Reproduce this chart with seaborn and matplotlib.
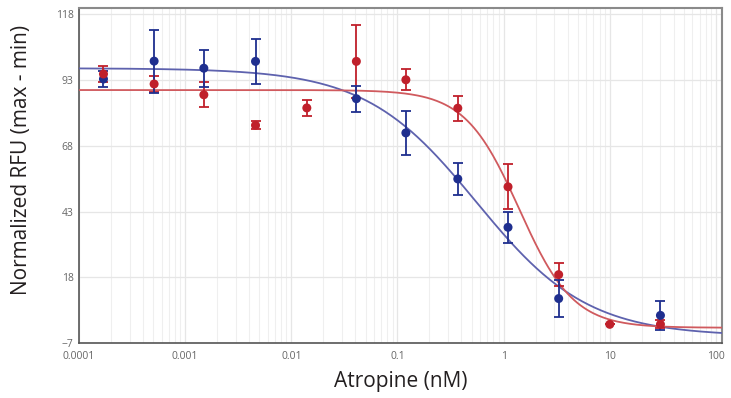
import numpy as np
import pandas as pd
import matplotlib
matplotlib.use("Agg")
import matplotlib.pyplot as plt
import seaborn as sns
from matplotlib.ticker import FixedLocator, LogLocator, NullFormatter

# ---- data ----
conc_nM = [0.00017, 0.00051, 0.0015, 0.0046, 0.014, 0.041, 0.12, 0.37, 1.1, 3.3, 10, 30]
blue_mean = [93.4, 100.2, 97.5, 100.1, np.nan, 85.9, 72.9, 55.4, 37.0, 9.9, np.nan, 3.5]
blue_err = [3.0, 12.0, 7.0, 8.5, np.nan, 5.0, 8.3, 6.0, 6.0, 7.0, np.nan, 5.6]
red_mean = [95.3, 91.5, 87.4, 75.8, 82.4, 100.1, 93.1, 82.3, 52.4, 19.0, 0.1, 0.1]
red_err = [3.0, 3.0, 4.7, 1.5, 3.0, 14.0, 4.0, 4.8, 8.5, 4.5, 0.0, 1.5]

# 4-parameter logistic fit parameters (top, bottom, IC50, hill)
blue_fit = [97.5, -4.4, 0.555, 0.83]
red_fit = [89.2, -1.2, 1.4, 1.7]

y_ticks = [-7, 18, 43, 68, 93, 118]
x_ticks = [0.0001, 0.001, 0.01, 0.1, 1, 10, 100]
x_ticklabels = ["0.0001", "0.001", "0.01", "0.1", "1", "10", "100"]

BLUE_PT = "#1f2f8f"
BLUE_LN = "#5e62ae"
RED_PT = "#c0202b"
RED_LN = "#d05a5e"

sns.set_theme(style="white")
plt.rcParams["font.family"] = ["Open Sans", "DejaVu Sans"]

fig = plt.figure(figsize=(7.31, 3.98), dpi=100)
ax = fig.add_axes([79 / 731, 1 - 343 / 398, (722 - 79) / 731, (343 - 8) / 398])

xs = np.logspace(-4, 2.06, 400)


def fourpl(x, p):
    top, bot, ic50, h = p
    return bot + (top - bot) / (1 + (x / ic50) ** h)


curves = pd.concat([
    pd.DataFrame({"x": xs, "y": fourpl(xs, blue_fit), "s": "blue"}),
    pd.DataFrame({"x": xs, "y": fourpl(xs, red_fit), "s": "red"}),
])
sns.lineplot(data=curves, x="x", y="y", hue="s", palette={"blue": BLUE_LN, "red": RED_LN},
             lw=1.3, legend=False, ax=ax, zorder=3)

pts = pd.concat([
    pd.DataFrame({"x": conc_nM, "y": blue_mean, "e": blue_err, "s": "blue"}),
    pd.DataFrame({"x": conc_nM, "y": red_mean, "e": red_err, "s": "red"}),
]).dropna()

for s, col, z in [("red", RED_PT, 4), ("blue", BLUE_PT, 5)]:
    d = pts[pts.s == s]
    ax.errorbar(d.x, d.y, yerr=d.e, fmt="none", ecolor=col, elinewidth=1.3,
                capsize=3.5, capthick=1.3, zorder=z)
sns.scatterplot(data=pts, x="x", y="y", hue="s", palette={"blue": BLUE_PT, "red": RED_PT},
                s=42, edgecolor="none", legend=False, ax=ax, zorder=6)

ax.set_xscale("log")
ax.set_xlim(1e-4, 10 ** 2.057)
ax.set_ylim(-7, 120.4)
ax.yaxis.set_major_locator(FixedLocator(y_ticks))
ax.set_xticks(x_ticks)
ax.set_xticklabels(x_ticklabels)
ax.xaxis.set_minor_locator(LogLocator(base=10, subs=np.arange(2, 10), numticks=20))
ax.xaxis.set_minor_formatter(NullFormatter())

ax.grid(True, which="major", axis="both", color="#e6e6e6", lw=0.9)
ax.grid(True, which="minor", axis="x", color="#efefef", lw=0.8)
ax.set_axisbelow(True)

ax.tick_params(axis="both", which="both", length=0, labelsize=7.5, labelcolor="#666666", pad=4)
ax.tick_params(axis="x", pad=6)

for side in ["left", "bottom"]:
    ax.spines[side].set_color("#555555")
    ax.spines[side].set_linewidth(1.2)
for side in ["top", "right"]:
    ax.spines[side].set_color("#8a8a8a")
    ax.spines[side].set_linewidth(1.5)

ax.set_xlabel("Atropine (nM)", fontsize=15, color="#231f20", labelpad=6)
ax.set_ylabel("Normalized RFU (max - min)", fontsize=15, color="#231f20")
ax.yaxis.set_label_coords(-0.073, 0.545)

fig.savefig("out.png", dpi=100, facecolor="white")
